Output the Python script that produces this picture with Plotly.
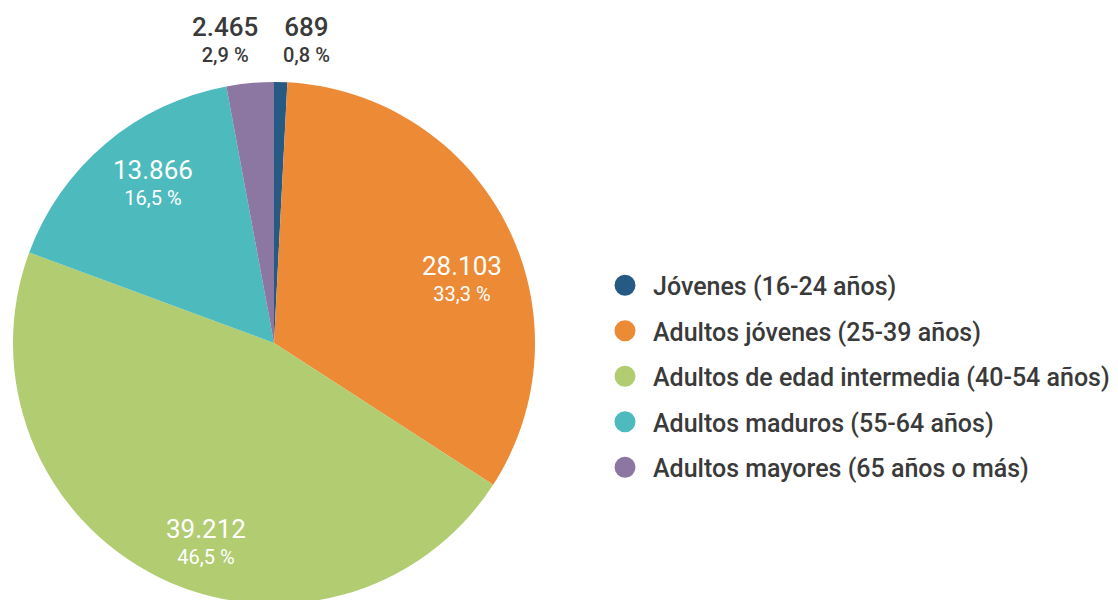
import plotly.graph_objects as go

# ---- data ----
categories = [
    "Jóvenes (16-24 años)",
    "Adultos jóvenes (25-39 años)",
    "Adultos de edad intermedia (40-54 años)",
    "Adultos maduros (55-64 años)",
    "Adultos mayores (65 años o más)",
]
values = [689, 28103, 39212, 13866, 2465]
percents = [0.8, 33.3, 46.5, 16.5, 2.9]
colors = ["#265A85", "#EC8A36", "#B2CC72", "#4DBBBE", "#8C77A3"]

# ---- layout constants ----
W, H = 1118, 600
T, B = 74, 4
OFF = 8  # page body offset
PLOT_H = H - T - B
TEXT = "#3a3a3a"
FONT = "Roboto"
# label anchor points (page px): centre x, middle y ; and whether the label is dark (outside)
label_pos = [(306, 40, True), (461.5, 278, False), (206, 541, False), (153, 182, False), (225, 40, True)]


def fmt_int(v):
    return f"{v:,}".replace(",", ".")


def fmt_pct(p):
    return f"{p:.1f}".replace(".", ",") + " %"


def px_to_paper(px, py):
    return (px - OFF) / W, 1 - (py - OFF - T) / PLOT_H


pct_text = [fmt_pct(p) for p in percents]

fig = go.Figure()

fig.add_trace(go.Pie(
    labels=categories,
    values=values,
    customdata=pct_text,
    sort=False,
    direction="clockwise",
    rotation=0,
    marker=dict(colors=colors, line=dict(width=0)),
    textinfo="none",
    domain=dict(x=[0, 532 / W], y=[0, 1]),
    showlegend=False,
    hovertemplate="%{label}<br>%{value:,} (%{customdata})<extra></extra>",
))

# legend entries with round markers
for i, (c, col) in enumerate(zip(categories, colors)):
    fig.add_trace(go.Scatter(
        x=[None], y=[None], mode="markers", name=c,
        legendgroup=f"g{i}",
        marker=dict(symbol="circle", size=16, color=col, line=dict(color=col, width=7)),
    ))

# value / percent labels
for i, (px, py, dark) in enumerate(label_pos):
    x, y = px_to_paper(px, py)
    fig.add_annotation(
        x=x, y=y, xref="paper", yref="paper",
        xanchor="center", yanchor="middle", showarrow=False,
        text=f"<span style='font-size:26px'>{fmt_int(values[i])}</span><br>{pct_text[i]}",
        font=dict(family=FONT, size=20, color=TEXT if dark else "white",
                  weight=500 if dark else 400),
        align="center",
    )

lx, ly = px_to_paper(597, 376.5)
fig.update_layout(
    width=W, height=H,
    margin=dict(l=0, r=0, t=T, b=B),
    paper_bgcolor="white", plot_bgcolor="white",
    separators=",.",
    font=dict(family=FONT, color=TEXT),
    xaxis=dict(visible=False),
    yaxis=dict(visible=False),
    legend=dict(
        x=lx, xanchor="left",
        y=ly, yanchor="middle",
        font=dict(family=FONT, size=25, color=TEXT, weight=500),
        tracegroupgap=10,
        itemwidth=46,
        itemsizing="trace",
        bgcolor="rgba(0,0,0,0)",
    ),
)

fig.write_html("out.html")
